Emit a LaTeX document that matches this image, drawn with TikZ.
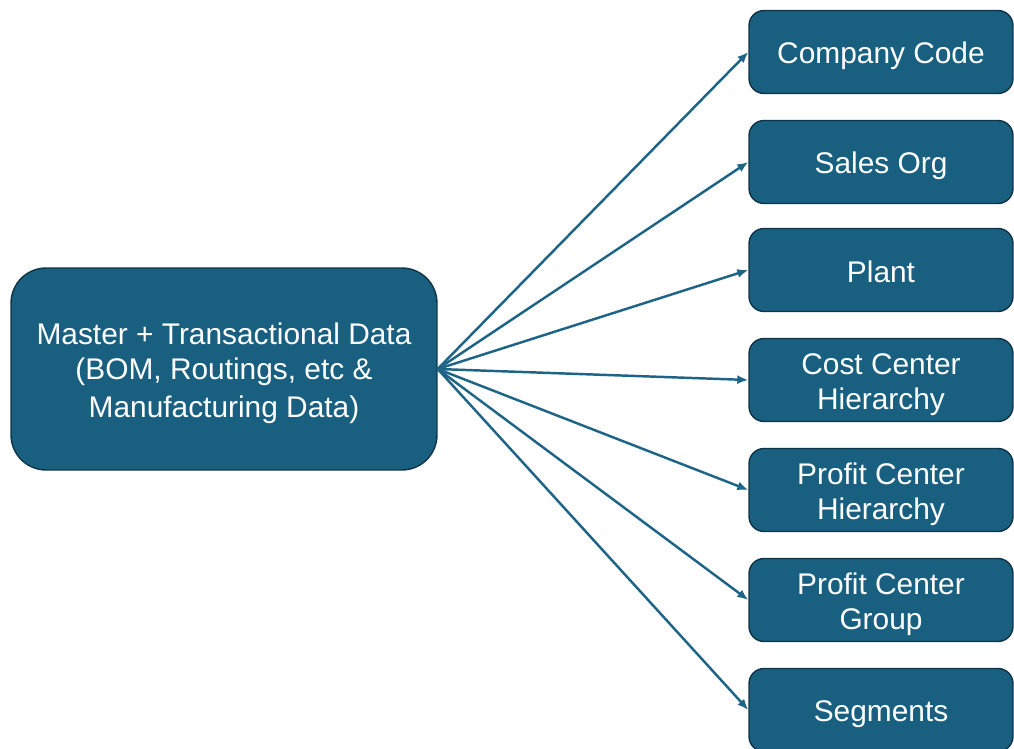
\documentclass[tikz,border=0pt]{standalone}
\usepackage{fontspec}
\setmainfont{Liberation Sans}
\usetikzlibrary{arrows.meta}
\definecolor{boxblue}{RGB}{24,95,128}
\definecolor{boxedge}{RGB}{16,52,70}
\definecolor{arrowblue}{RGB}{30,100,135}
\newcommand{\lnstrut}{\rule[-3pt]{0pt}{20pt}}

\begin{document}
\begin{tikzpicture}[x=0.02cm,y=-0.02cm,
  item/.style={draw=boxedge,line width=0.8pt,fill=boxblue,text=white,
    rounded corners=0.3cm,minimum width=5.28cm,minimum height=1.66cm,
    align=center,font=\fontsize{17}{20}\selectfont},
  source/.style={item,rounded corners=0.7cm,minimum width=8.52cm,minimum height=4.04cm},
  link/.style={draw=arrowblue,line width=1.4pt,-{Latex[length=0.22cm,width=0.18cm]}}]
\useasboundingbox (0,0) rectangle (1014,749);
\node[source] (data) at (224,369) {\lnstrut Master + Transactional Data\\(BOM, Routings, etc \&\\Manufacturing Data)\lnstrut};
\node[item] (cocode) at (881,52) {\lnstrut Company Code\lnstrut};
\node[item] (salesorg) at (881,162) {\lnstrut Sales Org\lnstrut};
\node[item] (plant) at (881,270) {\lnstrut Plant\lnstrut};
\node[item] (costctr) at (881,380) {\lnstrut Cost Center\\Hierarchy\lnstrut};
\node[item] (profitctr) at (881,490) {\lnstrut Profit Center\\Hierarchy\lnstrut};
\node[item] (pcgroup) at (881,600) {\lnstrut Profit Center\\Group\lnstrut};
\node[item] (segments) at (881,710) {\lnstrut Segments\lnstrut};
% one arrow per target box
\foreach \t in {cocode,salesorg,plant,costctr,profitctr,pcgroup,segments}
  \draw[link] (data.east) -- (\t.west);
\end{tikzpicture}
\end{document}
